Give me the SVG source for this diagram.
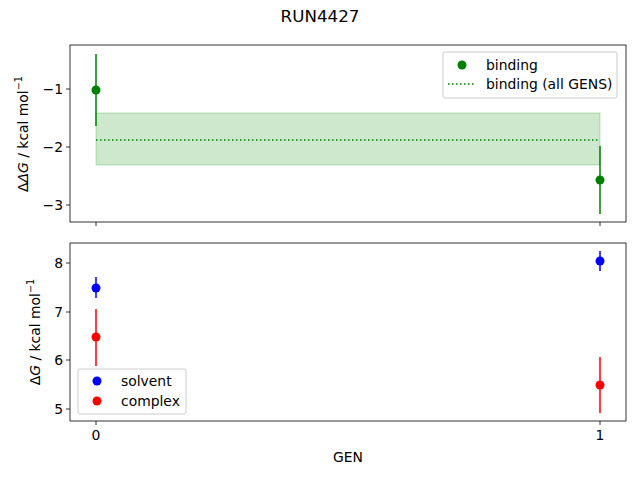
<svg xmlns="http://www.w3.org/2000/svg" width="640" height="480" viewBox="0 0 640 480">
<style>
text{font-family:"DejaVu Sans",sans-serif;font-size:13.9px;fill:#000}
.ax{fill:none;stroke:#000;stroke-width:0.8}
.tk{stroke:#000;stroke-width:0.8}
.leg{fill:#fff;fill-opacity:0.8;stroke:#ccc;stroke-width:1}
</style>
<rect width="640" height="480" fill="#fff"/>
<text x="320" y="22" text-anchor="middle" style="font-size:16.7px">RUN4427</text>
<g id="top">
<rect x="96" y="113" width="504" height="52" fill="#2ca02c" fill-opacity="0.24" stroke="#2ca02c" stroke-opacity="0.3"/>
<line x1="96" y1="140" x2="600" y2="140" stroke="green" stroke-width="1.5" stroke-dasharray="1.5,2.5"/>
<line x1="96" y1="54" x2="96" y2="126" stroke="green" stroke-width="1.5"/>
<line x1="600" y1="146" x2="600" y2="214" stroke="green" stroke-width="1.5"/>
<circle cx="96" cy="90" r="4.5" fill="green"/>
<circle cx="600" cy="180" r="4.5" fill="green"/>
<rect class="ax" x="70" y="45" width="556" height="177"/>
<g class="tk"><line x1="66" y1="89" x2="70" y2="89"/><line x1="66" y1="147" x2="70" y2="147"/><line x1="66" y1="205" x2="70" y2="205"/><line x1="96" y1="222" x2="96" y2="226"/><line x1="600" y1="222" x2="600" y2="226"/></g>
<text x="63" y="94" text-anchor="end">−1</text>
<text x="63" y="152" text-anchor="end">−2</text>
<text x="63" y="210" text-anchor="end">−3</text>
<text transform="translate(28,134) rotate(-90)" text-anchor="middle">Δ<tspan font-style="italic">ΔG</tspan> / kcal mol<tspan dy="-6" style="font-size:9.7px">−1</tspan></text>
<rect class="leg" x="443" y="52" width="174" height="46" rx="2"/>
<circle cx="462" cy="65" r="4.5" fill="green"/>
<text x="486" y="70">binding</text>
<line x1="448" y1="84" x2="476" y2="84" stroke="green" stroke-width="1.5" stroke-dasharray="1.5,2.5"/>
<text x="486" y="89">binding (all GENS)</text>
</g>
<g id="bottom">
<line x1="96" y1="277" x2="96" y2="298" stroke="blue" stroke-width="1.5"/>
<line x1="600" y1="251" x2="600" y2="271" stroke="blue" stroke-width="1.5"/>
<line x1="96" y1="309" x2="96" y2="366" stroke="red" stroke-width="1.5"/>
<line x1="600" y1="357" x2="600" y2="413" stroke="red" stroke-width="1.5"/>
<circle cx="96" cy="288" r="4.5" fill="blue"/>
<circle cx="600" cy="261" r="4.5" fill="blue"/>
<circle cx="96" cy="337" r="4.5" fill="red"/>
<circle cx="600" cy="385" r="4.5" fill="red"/>
<rect class="ax" x="70" y="243" width="556" height="178"/>
<g class="tk"><line x1="66" y1="263" x2="70" y2="263"/><line x1="66" y1="312" x2="70" y2="312"/><line x1="66" y1="360" x2="70" y2="360"/><line x1="66" y1="409" x2="70" y2="409"/><line x1="96" y1="421" x2="96" y2="425"/><line x1="600" y1="421" x2="600" y2="425"/></g>
<text x="63" y="268" text-anchor="end">8</text>
<text x="63" y="317" text-anchor="end">7</text>
<text x="63" y="365" text-anchor="end">6</text>
<text x="63" y="414" text-anchor="end">5</text>
<text x="96" y="440" text-anchor="middle">0</text>
<text x="600" y="440" text-anchor="middle">1</text>
<text x="348" y="462" text-anchor="middle">GEN</text>
<text transform="translate(40,332) rotate(-90)" text-anchor="middle">Δ<tspan font-style="italic">G</tspan> / kcal mol<tspan dy="-6" style="font-size:9.7px">−1</tspan></text>
<rect class="leg" x="78" y="369" width="108" height="45" rx="2"/>
<circle cx="97" cy="381" r="4.5" fill="blue"/>
<text x="121" y="386">solvent</text>
<circle cx="97" cy="401" r="4.5" fill="red"/>
<text x="121" y="406">complex</text>
</g>
</svg>
